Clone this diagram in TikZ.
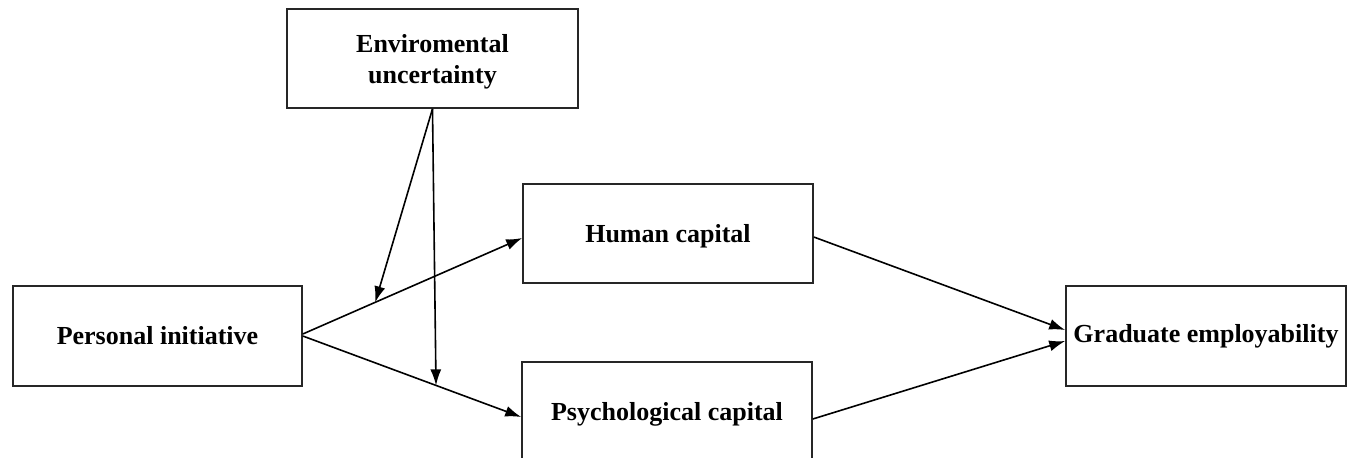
\documentclass[tikz,border=0pt]{standalone}
\usepackage{fontspec}
\setmainfont{Liberation Serif}
\usetikzlibrary{arrows.meta,calc}
\begin{document}
\begin{tikzpicture}[x=0.5pt,y=-0.5pt,
  box/.style={draw=black!85,line width=0.8pt,rectangle,inner sep=0pt,align=center,
    font=\fontsize{13pt}{15.5pt}\selectfont\bfseries},
  arr/.style={line width=0.8pt,-{Latex[length=8pt,width=5.5pt]}}]
\useasboundingbox (0,0) rectangle (1357,457);
\node[box,minimum width=145.5pt,minimum height=49.5pt] (EU) at (432.5,58.5) {\raisebox{-4.5pt}[0pt][0pt]{\begin{tabular}{@{}c@{}}Enviromental\\uncertainty\end{tabular}}};
\node[box,minimum width=145pt,minimum height=49.5pt,text depth=0pt] (HC) at (668,233.5) {Human capital};
\node[box,minimum width=144.5pt,minimum height=50pt] (PI) at (157.5,336) {Personal initiative};
\node[box,minimum width=145pt,minimum height=49.5pt,text depth=0pt] (PC) at (667,411.5) {Psychological capital};
\node[box,minimum width=140pt,minimum height=50pt] (GE) at (1206,336) {Graduate employability};
\draw[arr] ($(PI.east)+(0,-2)$) -- coordinate[pos=0.33] (m1) ($(HC.west)+(0,4.5)$);
\draw[arr] (PI.east) -- coordinate[pos=0.61] (m2) ($(PC.west)+(0,5.5)$);
\draw[arr] ($(HC.east)+(0,3.5)$) -- ($(GE.west)+(0,-6)$);
\draw[arr] ($(PC.east)+(0,7.5)$) -- ($(GE.west)+(0,5)$);
\draw[arr] (EU.south) -- (m1);
\draw[arr] (EU.south) -- (m2);
\end{tikzpicture}
\end{document}
